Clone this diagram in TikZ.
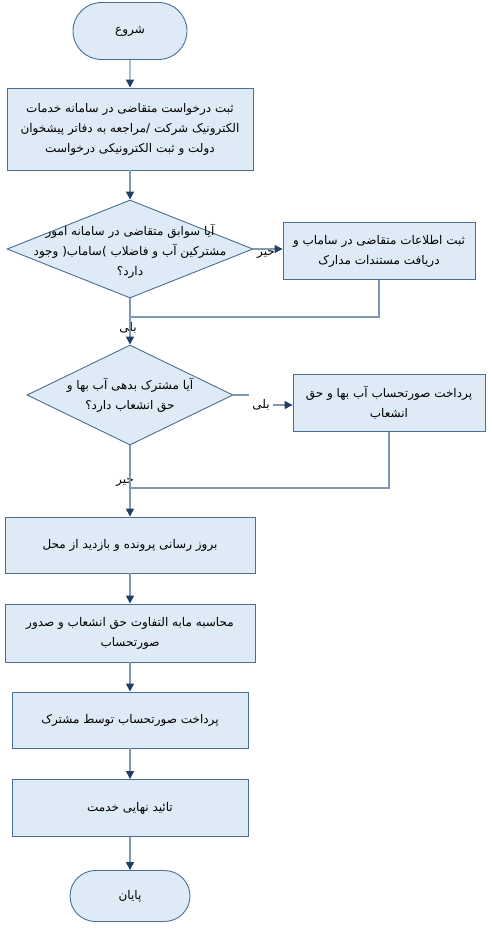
\documentclass[tikz,border=0pt]{standalone}
\usepackage{fontspec}
\usepackage{tikz}
\usepackage{xcolor}
\usetikzlibrary{positioning}
\usetikzlibrary{calc}
\usetikzlibrary{shapes.geometric}
\usetikzlibrary{shapes.misc}
\usetikzlibrary{arrows.meta}
\TeXXeTstate=1
\newfontfamily\arabicfont[Script=Arabic]{DejaVu Sans}
\newcommand{\fa}[1]{\beginR #1\endR}
\definecolor{boxfill}{HTML}{DEEBF7}
\definecolor{boxline}{HTML}{4A6E94}
\definecolor{linkline}{HTML}{7F98B5}
\definecolor{tipcol}{HTML}{1F3F66}

\begin{document}
\begin{tikzpicture}[x=1pt,y=-1pt,
  every node/.style={font=\arabicfont\fontsize{12}{20}\selectfont},
  stepbox/.style={draw=boxline,fill=boxfill,line width=0.9pt,inner sep=0pt},
  endbox/.style={draw=boxline,fill=boxfill,line width=0.9pt,rounded rectangle,inner sep=0pt},
  askbox/.style={draw=boxline,fill=boxfill,line width=0.9pt,diamond,inner sep=0pt},
  txt/.style={align=center},
  link/.style={draw=linkline,line width=1.3pt},
  flow/.style={link,-{Triangle[length=8pt,width=8pt,color=tipcol]}}]
\useasboundingbox (0,0) rectangle (491,930);

\node[endbox,minimum width=114pt,minimum height=57pt] (start) at (130,31) {\fa{شروع}};
\node[stepbox,minimum width=246pt,minimum height=82pt,txt] (b1) at (130,129)
  {\fa{ثبت درخواست متقاضی در سامانه خدمات}\\\fa{الکترونیک شرکت /مراجعه به دفاتر پیشخوان}\\\fa{دولت و ثبت الکترونیکی درخواست}};

\node[askbox,minimum width=246pt,minimum height=98pt] (d1) at (130,249) {};
\node[txt] (d1t) at ($(d1.center)+(0,2)$) {\fa{آیا سوابق متقاضی در سامانه امور}\\\fa{مشترکین آب و فاضلاب )ساماب( وجود}\\\fa{دارد؟}};
\node[stepbox,minimum width=192pt,minimum height=57pt,txt] (r1) at (379,251)
  {\fa{ثبت اطلاعات متقاضی در ساماب و}\\\fa{دریافت مستندات مدارک}};

\node[askbox,minimum width=206pt,minimum height=100pt] (d2) at (130,395) {};
\node[txt] (d2t) at (d2.center) {\fa{آیا مشترک بدهی آب بها و}\\\fa{حق انشعاب  دارد؟}};
\node[stepbox,minimum width=192pt,minimum height=57pt,txt] (r2) at (389,403)
  {\fa{پرداخت صورتحساب آب بها و حق}\\\fa{انشعاب}};

\node[stepbox,minimum width=250pt,minimum height=56pt,txt] (b3) at (130,545) {\fa{بروز رسانی پرونده و بازدید از محل}};
\node[stepbox,minimum width=250pt,minimum height=58pt,txt] (b4) at (130,633)
  {\fa{محاسبه مابه التفاوت حق انشعاب و صدور}\\\fa{صورتحساب}};
\node[stepbox,minimum width=236pt,minimum height=56pt,txt] (b5) at (130,720) {\fa{پرداخت صورتحساب توسط مشترک}};
\node[stepbox,minimum width=236pt,minimum height=57pt,txt] (b6) at (130,808) {\fa{تائید نهایی خدمت}};
\node[endbox,minimum width=120pt,minimum height=51pt] (stop) at (130,896) {\fa{پایان}};

% labels on the branches
\node (no1) at (266,254) {\fa{خیر}};
\node (yes1) at (128,328) {\fa{بلی}};
\node (yes2) at (261,405) {\fa{بلی}};
\node (no2) at (125,482) {\fa{خیر}};
\coordinate (j1) at (130,317);
\coordinate (j2) at (130,488);

\draw[flow] (start) -- (b1);
\draw[flow] (b1) -- (d1);
\draw[flow] (d1.east) -- (d1.east -| r1.west);
\draw[link] (r1.south) |- (j1);
\draw[flow] (d1.south) -- (d2.north);
\draw[link] (d2.east) -- (d2.east -| yes2.west);
\draw[flow] (yes2.east) -- (yes2.east -| r2.west);
\draw[link] (r2.south) |- (j2);
\draw[flow] (d2.south) -- (b3.north);
\draw[flow] (b3) -- (b4);
\draw[flow] (b4) -- (b5);
\draw[flow] (b5) -- (b6);
\draw[flow] (b6) -- (stop);
\end{tikzpicture}
\end{document}
